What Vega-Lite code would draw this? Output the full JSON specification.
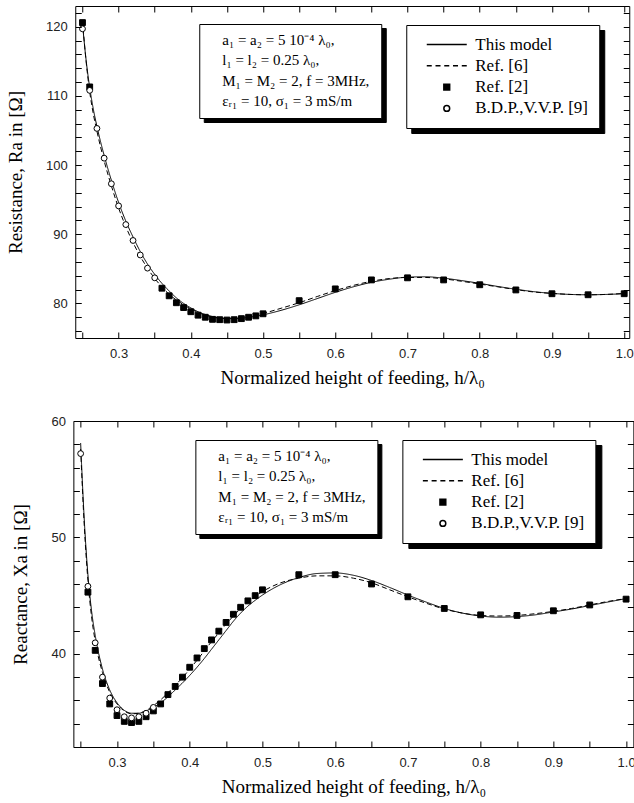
{
  "$schema": "https://vega.github.io/schema/vega-lite/v6.json",
  "padding": {"left": 6, "top": 5, "right": 0, "bottom": 0},
  "background": "white",
  "config": {
    "view": {"stroke": "black", "strokeWidth": 1},
    "font": "Liberation Serif",
    "axis": {
      "grid": false,
      "domain": false,
      "ticks": true,
      "tickColor": "black",
      "tickWidth": 1,
      "labelFont": "Liberation Sans",
      "labelFontSize": 13,
      "labelColor": "#222",
      "labelFlush": false,
      "labelOverlap": false,
      "titleFont": "Liberation Serif",
      "titleFontSize": 19,
      "titleFontWeight": "normal",
      "titleColor": "black"
    }
  },
  "datasets": {
    "notes": [
      {"note": "a₁ = a₂ = 5 10⁻⁴ λ₀,"},
      {"note": "l₁ = l₂ = 0.25 λ₀,"},
      {"note": "M₁ = M₂ = 2,  f = 3MHz,"},
      {"note": "εᵣ₁ = 10,  σ₁ = 3 mS/m"}
    ],
    "ra_curves": [
      {"s": "This model", "h": 0.25, "v": 120.4}, {"s": "This model", "h": 0.255, "v": 115.2}, {"s": "This model", "h": 0.26, "v": 111.2}, {"s": "This model", "h": 0.265, "v": 108.1},
      {"s": "This model", "h": 0.27, "v": 105.6}, {"s": "This model", "h": 0.28, "v": 101.4}, {"s": "This model", "h": 0.29, "v": 97.8}, {"s": "This model", "h": 0.3, "v": 94.6},
      {"s": "This model", "h": 0.31, "v": 91.9}, {"s": "This model", "h": 0.32, "v": 89.6}, {"s": "This model", "h": 0.33, "v": 87.5}, {"s": "This model", "h": 0.34, "v": 85.7},
      {"s": "This model", "h": 0.35, "v": 84.2}, {"s": "This model", "h": 0.36, "v": 82.9}, {"s": "This model", "h": 0.37, "v": 81.8}, {"s": "This model", "h": 0.38, "v": 80.8},
      {"s": "This model", "h": 0.39, "v": 80.0}, {"s": "This model", "h": 0.4, "v": 79.35}, {"s": "This model", "h": 0.41, "v": 78.8}, {"s": "This model", "h": 0.42, "v": 78.4},
      {"s": "This model", "h": 0.43, "v": 78.1}, {"s": "This model", "h": 0.44, "v": 77.9}, {"s": "This model", "h": 0.45, "v": 77.8}, {"s": "This model", "h": 0.46, "v": 77.8},
      {"s": "This model", "h": 0.47, "v": 77.85}, {"s": "This model", "h": 0.48, "v": 78.0}, {"s": "This model", "h": 0.49, "v": 78.15}, {"s": "This model", "h": 0.5, "v": 78.35},
      {"s": "This model", "h": 0.525, "v": 79.0}, {"s": "This model", "h": 0.55, "v": 79.8}, {"s": "This model", "h": 0.575, "v": 80.7}, {"s": "This model", "h": 0.6, "v": 81.6},
      {"s": "This model", "h": 0.625, "v": 82.4}, {"s": "This model", "h": 0.65, "v": 83.05}, {"s": "This model", "h": 0.675, "v": 83.5}, {"s": "This model", "h": 0.7, "v": 83.8},
      {"s": "This model", "h": 0.725, "v": 83.85}, {"s": "This model", "h": 0.75, "v": 83.65}, {"s": "This model", "h": 0.775, "v": 83.3}, {"s": "This model", "h": 0.8, "v": 82.9},
      {"s": "This model", "h": 0.825, "v": 82.45}, {"s": "This model", "h": 0.85, "v": 82.05}, {"s": "This model", "h": 0.875, "v": 81.7}, {"s": "This model", "h": 0.9, "v": 81.45},
      {"s": "This model", "h": 0.925, "v": 81.3}, {"s": "This model", "h": 0.95, "v": 81.25}, {"s": "This model", "h": 0.975, "v": 81.3}, {"s": "This model", "h": 1.0, "v": 81.4},
      {"s": "Ref. [6]", "h": 0.25, "v": 120.9}, {"s": "Ref. [6]", "h": 0.255, "v": 115.0}, {"s": "Ref. [6]", "h": 0.26, "v": 110.6}, {"s": "Ref. [6]", "h": 0.265, "v": 107.4},
      {"s": "Ref. [6]", "h": 0.27, "v": 104.9}, {"s": "Ref. [6]", "h": 0.28, "v": 100.6}, {"s": "Ref. [6]", "h": 0.29, "v": 97.0}, {"s": "Ref. [6]", "h": 0.3, "v": 93.8},
      {"s": "Ref. [6]", "h": 0.31, "v": 91.1}, {"s": "Ref. [6]", "h": 0.32, "v": 88.8}, {"s": "Ref. [6]", "h": 0.33, "v": 86.8}, {"s": "Ref. [6]", "h": 0.34, "v": 85.1},
      {"s": "Ref. [6]", "h": 0.35, "v": 83.6}, {"s": "Ref. [6]", "h": 0.36, "v": 82.4}, {"s": "Ref. [6]", "h": 0.37, "v": 81.3}, {"s": "Ref. [6]", "h": 0.38, "v": 80.5},
      {"s": "Ref. [6]", "h": 0.39, "v": 79.8}, {"s": "Ref. [6]", "h": 0.4, "v": 79.2}, {"s": "Ref. [6]", "h": 0.41, "v": 78.7}, {"s": "Ref. [6]", "h": 0.42, "v": 78.3},
      {"s": "Ref. [6]", "h": 0.43, "v": 78.05}, {"s": "Ref. [6]", "h": 0.44, "v": 77.85}, {"s": "Ref. [6]", "h": 0.45, "v": 77.8}, {"s": "Ref. [6]", "h": 0.46, "v": 77.85},
      {"s": "Ref. [6]", "h": 0.47, "v": 77.95}, {"s": "Ref. [6]", "h": 0.48, "v": 78.1}, {"s": "Ref. [6]", "h": 0.49, "v": 78.3}, {"s": "Ref. [6]", "h": 0.5, "v": 78.55},
      {"s": "Ref. [6]", "h": 0.525, "v": 79.3}, {"s": "Ref. [6]", "h": 0.55, "v": 80.1}, {"s": "Ref. [6]", "h": 0.575, "v": 81.0}, {"s": "Ref. [6]", "h": 0.6, "v": 81.85},
      {"s": "Ref. [6]", "h": 0.625, "v": 82.6}, {"s": "Ref. [6]", "h": 0.65, "v": 83.2}, {"s": "Ref. [6]", "h": 0.675, "v": 83.6}, {"s": "Ref. [6]", "h": 0.7, "v": 83.75},
      {"s": "Ref. [6]", "h": 0.725, "v": 83.75}, {"s": "Ref. [6]", "h": 0.75, "v": 83.55}, {"s": "Ref. [6]", "h": 0.775, "v": 83.2}, {"s": "Ref. [6]", "h": 0.8, "v": 82.8},
      {"s": "Ref. [6]", "h": 0.825, "v": 82.4}, {"s": "Ref. [6]", "h": 0.85, "v": 82.0}, {"s": "Ref. [6]", "h": 0.875, "v": 81.65}, {"s": "Ref. [6]", "h": 0.9, "v": 81.45},
      {"s": "Ref. [6]", "h": 0.925, "v": 81.3}, {"s": "Ref. [6]", "h": 0.95, "v": 81.25}, {"s": "Ref. [6]", "h": 0.975, "v": 81.3}, {"s": "Ref. [6]", "h": 1.0, "v": 81.45}
    ],
    "ra_points": [
      {"s": "Ref. [2]", "h": 0.25, "v": 120.6}, {"s": "Ref. [2]", "h": 0.26, "v": 111.3}, {"s": "Ref. [2]", "h": 0.36, "v": 82.2}, {"s": "Ref. [2]", "h": 0.37, "v": 81.1},
      {"s": "Ref. [2]", "h": 0.38, "v": 80.1}, {"s": "Ref. [2]", "h": 0.39, "v": 79.4}, {"s": "Ref. [2]", "h": 0.4, "v": 78.8}, {"s": "Ref. [2]", "h": 0.41, "v": 78.3},
      {"s": "Ref. [2]", "h": 0.42, "v": 78.0}, {"s": "Ref. [2]", "h": 0.43, "v": 77.7}, {"s": "Ref. [2]", "h": 0.44, "v": 77.65}, {"s": "Ref. [2]", "h": 0.45, "v": 77.6},
      {"s": "Ref. [2]", "h": 0.46, "v": 77.65}, {"s": "Ref. [2]", "h": 0.47, "v": 77.8}, {"s": "Ref. [2]", "h": 0.48, "v": 78.0}, {"s": "Ref. [2]", "h": 0.49, "v": 78.2},
      {"s": "Ref. [2]", "h": 0.5, "v": 78.5}, {"s": "Ref. [2]", "h": 0.55, "v": 80.4}, {"s": "Ref. [2]", "h": 0.6, "v": 82.1}, {"s": "Ref. [2]", "h": 0.65, "v": 83.4},
      {"s": "Ref. [2]", "h": 0.7, "v": 83.7}, {"s": "Ref. [2]", "h": 0.75, "v": 83.4}, {"s": "Ref. [2]", "h": 0.8, "v": 82.7}, {"s": "Ref. [2]", "h": 0.85, "v": 81.95},
      {"s": "Ref. [2]", "h": 0.9, "v": 81.4}, {"s": "Ref. [2]", "h": 0.95, "v": 81.25}, {"s": "Ref. [2]", "h": 1.0, "v": 81.4},
      {"s": "B.D.P.,V.V.P. [9]", "h": 0.25, "v": 119.7}, {"s": "B.D.P.,V.V.P. [9]", "h": 0.26, "v": 110.8}, {"s": "B.D.P.,V.V.P. [9]", "h": 0.27, "v": 105.3},
      {"s": "B.D.P.,V.V.P. [9]", "h": 0.28, "v": 101.0}, {"s": "B.D.P.,V.V.P. [9]", "h": 0.29, "v": 97.3}, {"s": "B.D.P.,V.V.P. [9]", "h": 0.3, "v": 94.1},
      {"s": "B.D.P.,V.V.P. [9]", "h": 0.31, "v": 91.4}, {"s": "B.D.P.,V.V.P. [9]", "h": 0.32, "v": 89.1}, {"s": "B.D.P.,V.V.P. [9]", "h": 0.33, "v": 87.0},
      {"s": "B.D.P.,V.V.P. [9]", "h": 0.34, "v": 85.1}, {"s": "B.D.P.,V.V.P. [9]", "h": 0.35, "v": 83.7}
    ],
    "xa_curves": [
      {"s": "This model", "h": 0.25, "v": 58.1}, {"s": "This model", "h": 0.255, "v": 51.5}, {"s": "This model", "h": 0.26, "v": 46.8}, {"s": "This model", "h": 0.265, "v": 43.7},
      {"s": "This model", "h": 0.27, "v": 41.6}, {"s": "This model", "h": 0.28, "v": 38.7}, {"s": "This model", "h": 0.29, "v": 36.9}, {"s": "This model", "h": 0.3, "v": 35.8},
      {"s": "This model", "h": 0.31, "v": 35.15}, {"s": "This model", "h": 0.32, "v": 34.9}, {"s": "This model", "h": 0.33, "v": 34.9}, {"s": "This model", "h": 0.34, "v": 35.1},
      {"s": "This model", "h": 0.35, "v": 35.4}, {"s": "This model", "h": 0.36, "v": 35.8}, {"s": "This model", "h": 0.37, "v": 36.3}, {"s": "This model", "h": 0.38, "v": 36.9},
      {"s": "This model", "h": 0.39, "v": 37.5}, {"s": "This model", "h": 0.4, "v": 38.15}, {"s": "This model", "h": 0.41, "v": 38.85}, {"s": "This model", "h": 0.42, "v": 39.6},
      {"s": "This model", "h": 0.43, "v": 40.4}, {"s": "This model", "h": 0.44, "v": 41.2}, {"s": "This model", "h": 0.45, "v": 42.0}, {"s": "This model", "h": 0.46, "v": 42.8},
      {"s": "This model", "h": 0.47, "v": 43.5}, {"s": "This model", "h": 0.48, "v": 44.1}, {"s": "This model", "h": 0.49, "v": 44.6}, {"s": "This model", "h": 0.5, "v": 45.05},
      {"s": "This model", "h": 0.525, "v": 45.95}, {"s": "This model", "h": 0.55, "v": 46.55}, {"s": "This model", "h": 0.575, "v": 46.9}, {"s": "This model", "h": 0.6, "v": 46.95},
      {"s": "This model", "h": 0.625, "v": 46.75}, {"s": "This model", "h": 0.65, "v": 46.3}, {"s": "This model", "h": 0.675, "v": 45.7}, {"s": "This model", "h": 0.7, "v": 45.05},
      {"s": "This model", "h": 0.725, "v": 44.45}, {"s": "This model", "h": 0.75, "v": 43.9}, {"s": "This model", "h": 0.775, "v": 43.5}, {"s": "This model", "h": 0.8, "v": 43.25},
      {"s": "This model", "h": 0.825, "v": 43.15}, {"s": "This model", "h": 0.85, "v": 43.2}, {"s": "This model", "h": 0.875, "v": 43.35}, {"s": "This model", "h": 0.9, "v": 43.6},
      {"s": "This model", "h": 0.925, "v": 43.85}, {"s": "This model", "h": 0.95, "v": 44.15}, {"s": "This model", "h": 0.975, "v": 44.45}, {"s": "This model", "h": 1.0, "v": 44.75},
      {"s": "Ref. [6]", "h": 0.25, "v": 57.6}, {"s": "Ref. [6]", "h": 0.255, "v": 51.0}, {"s": "Ref. [6]", "h": 0.26, "v": 46.3}, {"s": "Ref. [6]", "h": 0.265, "v": 43.2},
      {"s": "Ref. [6]", "h": 0.27, "v": 41.1}, {"s": "Ref. [6]", "h": 0.28, "v": 38.4}, {"s": "Ref. [6]", "h": 0.29, "v": 36.7}, {"s": "Ref. [6]", "h": 0.3, "v": 35.7},
      {"s": "Ref. [6]", "h": 0.31, "v": 35.1}, {"s": "Ref. [6]", "h": 0.32, "v": 34.85}, {"s": "Ref. [6]", "h": 0.33, "v": 34.9}, {"s": "Ref. [6]", "h": 0.34, "v": 35.15},
      {"s": "Ref. [6]", "h": 0.35, "v": 35.55}, {"s": "Ref. [6]", "h": 0.36, "v": 36.05}, {"s": "Ref. [6]", "h": 0.37, "v": 36.65}, {"s": "Ref. [6]", "h": 0.38, "v": 37.3},
      {"s": "Ref. [6]", "h": 0.39, "v": 37.95}, {"s": "Ref. [6]", "h": 0.4, "v": 38.7}, {"s": "Ref. [6]", "h": 0.41, "v": 39.45}, {"s": "Ref. [6]", "h": 0.42, "v": 40.25},
      {"s": "Ref. [6]", "h": 0.43, "v": 41.05}, {"s": "Ref. [6]", "h": 0.44, "v": 41.8}, {"s": "Ref. [6]", "h": 0.45, "v": 42.55}, {"s": "Ref. [6]", "h": 0.46, "v": 43.25},
      {"s": "Ref. [6]", "h": 0.47, "v": 43.9}, {"s": "Ref. [6]", "h": 0.48, "v": 44.45}, {"s": "Ref. [6]", "h": 0.49, "v": 44.95}, {"s": "Ref. [6]", "h": 0.5, "v": 45.35},
      {"s": "Ref. [6]", "h": 0.525, "v": 46.1}, {"s": "Ref. [6]", "h": 0.55, "v": 46.5}, {"s": "Ref. [6]", "h": 0.575, "v": 46.7}, {"s": "Ref. [6]", "h": 0.6, "v": 46.7},
      {"s": "Ref. [6]", "h": 0.625, "v": 46.5}, {"s": "Ref. [6]", "h": 0.65, "v": 46.1}, {"s": "Ref. [6]", "h": 0.675, "v": 45.5}, {"s": "Ref. [6]", "h": 0.7, "v": 44.9},
      {"s": "Ref. [6]", "h": 0.725, "v": 44.35}, {"s": "Ref. [6]", "h": 0.75, "v": 43.85}, {"s": "Ref. [6]", "h": 0.775, "v": 43.5}, {"s": "Ref. [6]", "h": 0.8, "v": 43.3},
      {"s": "Ref. [6]", "h": 0.825, "v": 43.25}, {"s": "Ref. [6]", "h": 0.85, "v": 43.3}, {"s": "Ref. [6]", "h": 0.875, "v": 43.45}, {"s": "Ref. [6]", "h": 0.9, "v": 43.65},
      {"s": "Ref. [6]", "h": 0.925, "v": 43.9}, {"s": "Ref. [6]", "h": 0.95, "v": 44.2}, {"s": "Ref. [6]", "h": 0.975, "v": 44.5}, {"s": "Ref. [6]", "h": 1.0, "v": 44.75}
    ],
    "xa_points": [
      {"s": "Ref. [2]", "h": 0.26, "v": 45.3}, {"s": "Ref. [2]", "h": 0.27, "v": 40.3}, {"s": "Ref. [2]", "h": 0.28, "v": 37.45}, {"s": "Ref. [2]", "h": 0.29, "v": 35.7},
      {"s": "Ref. [2]", "h": 0.3, "v": 34.7}, {"s": "Ref. [2]", "h": 0.31, "v": 34.2}, {"s": "Ref. [2]", "h": 0.32, "v": 34.1}, {"s": "Ref. [2]", "h": 0.33, "v": 34.2},
      {"s": "Ref. [2]", "h": 0.34, "v": 34.6}, {"s": "Ref. [2]", "h": 0.35, "v": 35.1}, {"s": "Ref. [2]", "h": 0.36, "v": 35.7}, {"s": "Ref. [2]", "h": 0.37, "v": 36.5},
      {"s": "Ref. [2]", "h": 0.38, "v": 37.2}, {"s": "Ref. [2]", "h": 0.39, "v": 38.0}, {"s": "Ref. [2]", "h": 0.4, "v": 38.85}, {"s": "Ref. [2]", "h": 0.41, "v": 39.65},
      {"s": "Ref. [2]", "h": 0.42, "v": 40.45}, {"s": "Ref. [2]", "h": 0.43, "v": 41.2}, {"s": "Ref. [2]", "h": 0.44, "v": 41.95}, {"s": "Ref. [2]", "h": 0.45, "v": 42.7},
      {"s": "Ref. [2]", "h": 0.46, "v": 43.4}, {"s": "Ref. [2]", "h": 0.47, "v": 44.0}, {"s": "Ref. [2]", "h": 0.48, "v": 44.55}, {"s": "Ref. [2]", "h": 0.49, "v": 45.0},
      {"s": "Ref. [2]", "h": 0.5, "v": 45.5}, {"s": "Ref. [2]", "h": 0.55, "v": 46.8}, {"s": "Ref. [2]", "h": 0.6, "v": 46.8}, {"s": "Ref. [2]", "h": 0.65, "v": 46.0},
      {"s": "Ref. [2]", "h": 0.7, "v": 44.9}, {"s": "Ref. [2]", "h": 0.75, "v": 43.9}, {"s": "Ref. [2]", "h": 0.8, "v": 43.35}, {"s": "Ref. [2]", "h": 0.85, "v": 43.3},
      {"s": "Ref. [2]", "h": 0.9, "v": 43.7}, {"s": "Ref. [2]", "h": 0.95, "v": 44.2}, {"s": "Ref. [2]", "h": 1.0, "v": 44.7},
      {"s": "B.D.P.,V.V.P. [9]", "h": 0.25, "v": 57.2}, {"s": "B.D.P.,V.V.P. [9]", "h": 0.26, "v": 45.8}, {"s": "B.D.P.,V.V.P. [9]", "h": 0.27, "v": 40.95},
      {"s": "B.D.P.,V.V.P. [9]", "h": 0.28, "v": 38.0}, {"s": "B.D.P.,V.V.P. [9]", "h": 0.29, "v": 36.2}, {"s": "B.D.P.,V.V.P. [9]", "h": 0.3, "v": 35.2},
      {"s": "B.D.P.,V.V.P. [9]", "h": 0.31, "v": 34.6}, {"s": "B.D.P.,V.V.P. [9]", "h": 0.32, "v": 34.5}, {"s": "B.D.P.,V.V.P. [9]", "h": 0.33, "v": 34.6},
      {"s": "B.D.P.,V.V.P. [9]", "h": 0.34, "v": 34.9}, {"s": "B.D.P.,V.V.P. [9]", "h": 0.35, "v": 35.4}
    ]
  },
  "spacing": 26,
  "center": true,
  "resolve": {
    "scale": {"shape": "independent", "fill": "independent", "color": "independent", "strokeDash": "independent"},
    "legend": {"shape": "independent", "fill": "independent", "color": "independent"}
  },
  "vconcat": [
    {
      "width": 554,
      "height": 332,
      "resolve": {
        "axis": {"x": "independent", "y": "independent"},
        "scale": {"shape": "independent", "fill": "independent", "color": "independent"},
        "legend": {"shape": "independent", "fill": "independent", "color": "independent"}
      },
      "layer": [
        {
          "data": {"name": "ra_curves"},
          "mark": {"type": "line", "interpolate": "monotone", "color": "black", "strokeWidth": 1},
          "encoding": {
            "x": {"field": "h", "type": "quantitative", "scale": {"domain": [0.24, 1.007], "nice": false, "zero": false},
              "axis": {"orient": "bottom", "offset": -6, "zindex": 1, "values": [0.25,0.3,0.35,0.4,0.45,0.5,0.55,0.6,0.65,0.7,0.75,0.8,0.85,0.9,0.95,1.0],
                "labelExpr": "abs(datum.value*10 - round(datum.value*10)) < 0.001 ? format(datum.value, '.1f') : ''",
                "tickSize": 6, "labelPadding": 9, "title": "Normalized height of feeding, h/λ₀", "titlePadding": 8}},
            "y": {"field": "v", "type": "quantitative", "scale": {"domain": [75, 123], "nice": false, "zero": false},
              "axis": {"orient": "left", "offset": -6, "zindex": 1, "values": [76,78,80,82,84,86,88,90,92,94,96,98,100,102,104,106,108,110,112,114,116,118,120,122],
                "labelExpr": "datum.value % 10 == 0 ? datum.label : ''",
                "tickSize": 6, "labelPadding": 8, "title": "Resistance, Ra in [Ω]", "titlePadding": 20}},
            "strokeDash": {"field": "s", "type": "nominal", "scale": {"domain": ["This model", "Ref. [6]"], "range": [[1, 0], [5, 3]]}, "legend": null}
          }
        },
        {
          "data": {"name": "ra_points"},
          "mark": {"type": "point", "opacity": 0, "size": 34},
          "encoding": {
            "shape": {"field": "s", "type": "nominal",
              "scale": {"domain": ["This model\u200b", "Ref. [6]\u200b", "Ref. [2]\u200b", "B.D.P.,V.V.P. [9]\u200b"],
                "range": ["M-6.86,0H6.86", "M-6.86,0H-5.15M-3.86,0H-2.14M-0.86,0H0.86M2.14,0H3.86M5.15,0H6.86", "square", "circle"]},
              "legend": {"title": null, "orient": "none", "legendX": 336, "legendY": 24, "zindex": 1, "padding": 11, "strokeColor": "black", "fillColor": "black",
                "labelFont": "Liberation Serif", "labelFontSize": 17, "labelColor": "black", "labelLimit": 400,
                "symbolSize": 34, "symbolOffset": 21, "labelOffset": 20, "rowPadding": 3.3, "symbolOpacity": 0}}
          }
        },
        {
          "data": {"name": "ra_points"},
          "mark": {"type": "point", "filled": false, "stroke": "black", "strokeWidth": 1, "opacity": 1, "size": 34},
          "encoding": {
            "x": {"field": "h", "type": "quantitative",
              "axis": {"orient": "top", "offset": -6, "zindex": 1, "values": [0.25,0.3,0.35,0.4,0.45,0.5,0.55,0.6,0.65,0.7,0.75,0.8,0.85,0.9,0.95,1.0], "labels": false, "title": null, "tickSize": 6}},
            "y": {"field": "v", "type": "quantitative",
              "axis": {"orient": "right", "offset": -6, "zindex": 1, "values": [76,78,80,82,84,86,88,90,92,94,96,98,100,102,104,106,108,110,112,114,116,118,120,122], "labels": false, "title": null, "tickSize": 6}},
            "shape": {"field": "s", "type": "nominal",
              "scale": {"domain": ["This model", "Ref. [6]", "Ref. [2]", "B.D.P.,V.V.P. [9]"],
                "range": ["M-6.86,0H6.86", "M-6.86,0H-5.15M-3.86,0H-2.14M-0.86,0H0.86M2.14,0H3.86M5.15,0H6.86", "square", "circle"]},
              "legend": {"title": null, "orient": "none", "legendX": 331, "legendY": 19, "zindex": 2, "padding": 11, "strokeColor": "black", "fillColor": "white",
                "labelFont": "Liberation Serif", "labelFontSize": 17, "labelColor": "black", "labelLimit": 400,
                "symbolSize": 34, "symbolOffset": 21, "labelOffset": 20, "rowPadding": 3.3,
                "encoding": {"symbols": {"update": {"stroke": {"value": "black"}, "strokeWidth": {"value": 1}, "opacity": {"value": 1}}}}}},
            "fill": {"field": "s", "type": "nominal",
              "scale": {"domain": ["This model", "Ref. [6]", "Ref. [2]", "B.D.P.,V.V.P. [9]"], "range": ["transparent", "transparent", "black", "white"]},
              "legend": {"title": null, "orient": "none", "legendX": 331, "legendY": 19, "zindex": 2, "padding": 11, "strokeColor": "black", "fillColor": "white",
                "labelFont": "Liberation Serif", "labelFontSize": 17, "labelColor": "black", "labelLimit": 400,
                "symbolSize": 34, "symbolOffset": 21, "labelOffset": 20, "rowPadding": 3.3,
                "encoding": {"symbols": {"update": {"stroke": {"value": "black"}, "strokeWidth": {"value": 1}, "opacity": {"value": 1}}}}}}
          }
        },
        {
          "data": {"name": "notes"},
          "mark": {"type": "point", "opacity": 0},
          "encoding": {
            "color": {"field": "note", "type": "nominal",
              "scale": {"domain": ["a₁ = a₂ = 5 10⁻⁴ λ₀,\u200b", "l₁ = l₂ = 0.25 λ₀,\u200b", "M₁ = M₂ = 2,  f = 3MHz,\u200b", "εᵣ₁ = 10,  σ₁ = 3 mS/m\u200b"], "range": ["black", "black", "black", "black"]},
              "legend": {"title": null, "orient": "none", "legendX": 128.5, "legendY": 22, "zindex": 1, "padding": 8, "strokeColor": "black", "fillColor": "black",
                "labelFont": "Liberation Serif", "labelFontSize": 15, "labelColor": "black", "labelLimit": 400, "symbolSize": 0, "symbolOpacity": 0,
                "symbolOffset": 0, "labelOffset": 0, "rowPadding": 4.6}}
          }
        },
        {
          "data": {"name": "notes"},
          "mark": {"type": "point", "opacity": 0},
          "encoding": {
            "color": {"field": "note", "type": "nominal",
              "scale": {"domain": ["a₁ = a₂ = 5 10⁻⁴ λ₀,", "l₁ = l₂ = 0.25 λ₀,", "M₁ = M₂ = 2,  f = 3MHz,", "εᵣ₁ = 10,  σ₁ = 3 mS/m"], "range": ["black", "black", "black", "black"]},
              "legend": {"title": null, "orient": "none", "legendX": 124, "legendY": 18, "zindex": 2, "padding": 8, "strokeColor": "black", "fillColor": "white",
                "labelFont": "Liberation Serif", "labelFontSize": 15, "labelColor": "black", "labelLimit": 400, "symbolSize": 0, "symbolOpacity": 0,
                "symbolOffset": 0, "labelOffset": 0, "rowPadding": 4.6}}
          }
        }
      ]
    },
    {
      "width": 560,
      "height": 326,
      "resolve": {
        "axis": {"x": "independent", "y": "independent"},
        "scale": {"shape": "independent", "fill": "independent", "color": "independent"},
        "legend": {"shape": "independent", "fill": "independent", "color": "independent"}
      },
      "layer": [
        {
          "data": {"name": "xa_curves"},
          "mark": {"type": "line", "interpolate": "monotone", "color": "black", "strokeWidth": 1},
          "encoding": {
            "x": {"field": "h", "type": "quantitative", "scale": {"domain": [0.24, 1.01], "nice": false, "zero": false},
              "axis": {"orient": "bottom", "offset": -6, "zindex": 1, "values": [0.25,0.3,0.35,0.4,0.45,0.5,0.55,0.6,0.65,0.7,0.75,0.8,0.85,0.9,0.95,1.0],
                "labelExpr": "abs(datum.value*10 - round(datum.value*10)) < 0.001 ? format(datum.value, '.1f') : ''",
                "tickSize": 6, "labelPadding": 9, "title": "Normalized height of feeding, h/λ₀", "titlePadding": 8}},
            "y": {"field": "v", "type": "quantitative", "scale": {"domain": [32, 60], "nice": false, "zero": false},
              "axis": {"orient": "left", "offset": -6, "zindex": 1, "values": [32,34,36,38,40,42,44,46,48,50,52,54,56,58,60],
                "labelExpr": "datum.value % 10 == 0 ? datum.label : ''",
                "tickSize": 6, "labelPadding": 8, "title": "Reactance, Xa in [Ω]", "titlePadding": 20}},
            "strokeDash": {"field": "s", "type": "nominal", "scale": {"domain": ["This model", "Ref. [6]"], "range": [[1, 0], [5, 3]]}, "legend": null}
          }
        },
        {
          "data": {"name": "xa_points"},
          "mark": {"type": "point", "opacity": 0, "size": 34},
          "encoding": {
            "shape": {"field": "s", "type": "nominal",
              "scale": {"domain": ["This model\u200b", "Ref. [6]\u200b", "Ref. [2]\u200b", "B.D.P.,V.V.P. [9]\u200b"],
                "range": ["M-6.86,0H6.86", "M-6.86,0H-5.15M-3.86,0H-2.14M-0.86,0H0.86M2.14,0H3.86M5.15,0H6.86", "square", "circle"]},
              "legend": {"title": null, "orient": "none", "legendX": 335, "legendY": 24, "zindex": 1, "padding": 11, "strokeColor": "black", "fillColor": "black",
                "labelFont": "Liberation Serif", "labelFontSize": 17, "labelColor": "black", "labelLimit": 400,
                "symbolSize": 34, "symbolOffset": 21, "labelOffset": 20, "rowPadding": 3.3, "symbolOpacity": 0}}
          }
        },
        {
          "data": {"name": "xa_points"},
          "mark": {"type": "point", "filled": false, "stroke": "black", "strokeWidth": 1, "opacity": 1, "size": 34},
          "encoding": {
            "x": {"field": "h", "type": "quantitative",
              "axis": {"orient": "top", "offset": -6, "zindex": 1, "values": [0.25,0.3,0.35,0.4,0.45,0.5,0.55,0.6,0.65,0.7,0.75,0.8,0.85,0.9,0.95,1.0], "labels": false, "title": null, "tickSize": 6}},
            "y": {"field": "v", "type": "quantitative",
              "axis": {"orient": "right", "offset": -6, "zindex": 1, "values": [32,34,36,38,40,42,44,46,48,50,52,54,56,58,60], "labels": false, "title": null, "tickSize": 6}},
            "shape": {"field": "s", "type": "nominal",
              "scale": {"domain": ["This model", "Ref. [6]", "Ref. [2]", "B.D.P.,V.V.P. [9]"],
                "range": ["M-6.86,0H6.86", "M-6.86,0H-5.15M-3.86,0H-2.14M-0.86,0H0.86M2.14,0H3.86M5.15,0H6.86", "square", "circle"]},
              "legend": {"title": null, "orient": "none", "legendX": 329, "legendY": 19, "zindex": 2, "padding": 11, "strokeColor": "black", "fillColor": "white",
                "labelFont": "Liberation Serif", "labelFontSize": 17, "labelColor": "black", "labelLimit": 400,
                "symbolSize": 34, "symbolOffset": 21, "labelOffset": 20, "rowPadding": 3.3,
                "encoding": {"symbols": {"update": {"stroke": {"value": "black"}, "strokeWidth": {"value": 1}, "opacity": {"value": 1}}}}}},
            "fill": {"field": "s", "type": "nominal",
              "scale": {"domain": ["This model", "Ref. [6]", "Ref. [2]", "B.D.P.,V.V.P. [9]"], "range": ["transparent", "transparent", "black", "white"]},
              "legend": {"title": null, "orient": "none", "legendX": 329, "legendY": 19, "zindex": 2, "padding": 11, "strokeColor": "black", "fillColor": "white",
                "labelFont": "Liberation Serif", "labelFontSize": 17, "labelColor": "black", "labelLimit": 400,
                "symbolSize": 34, "symbolOffset": 21, "labelOffset": 20, "rowPadding": 3.3,
                "encoding": {"symbols": {"update": {"stroke": {"value": "black"}, "strokeWidth": {"value": 1}, "opacity": {"value": 1}}}}}}
          }
        },
        {
          "data": {"name": "notes"},
          "mark": {"type": "point", "opacity": 0},
          "encoding": {
            "color": {"field": "note", "type": "nominal",
              "scale": {"domain": ["a₁ = a₂ = 5 10⁻⁴ λ₀,\u200b", "l₁ = l₂ = 0.25 λ₀,\u200b", "M₁ = M₂ = 2,  f = 3MHz,\u200b", "εᵣ₁ = 10,  σ₁ = 3 mS/m\u200b"], "range": ["black", "black", "black", "black"]},
              "legend": {"title": null, "orient": "none", "legendX": 126, "legendY": 23, "zindex": 1, "padding": 8, "strokeColor": "black", "fillColor": "black",
                "labelFont": "Liberation Serif", "labelFontSize": 15, "labelColor": "black", "labelLimit": 400, "symbolSize": 0, "symbolOpacity": 0,
                "symbolOffset": 0, "labelOffset": 0, "rowPadding": 4.6}}
          }
        },
        {
          "data": {"name": "notes"},
          "mark": {"type": "point", "opacity": 0},
          "encoding": {
            "color": {"field": "note", "type": "nominal",
              "scale": {"domain": ["a₁ = a₂ = 5 10⁻⁴ λ₀,", "l₁ = l₂ = 0.25 λ₀,", "M₁ = M₂ = 2,  f = 3MHz,", "εᵣ₁ = 10,  σ₁ = 3 mS/m"], "range": ["black", "black", "black", "black"]},
              "legend": {"title": null, "orient": "none", "legendX": 122, "legendY": 19, "zindex": 2, "padding": 8, "strokeColor": "black", "fillColor": "white",
                "labelFont": "Liberation Serif", "labelFontSize": 15, "labelColor": "black", "labelLimit": 400, "symbolSize": 0, "symbolOpacity": 0,
                "symbolOffset": 0, "labelOffset": 0, "rowPadding": 4.6}}
          }
        }
      ]
    }
  ]
}
